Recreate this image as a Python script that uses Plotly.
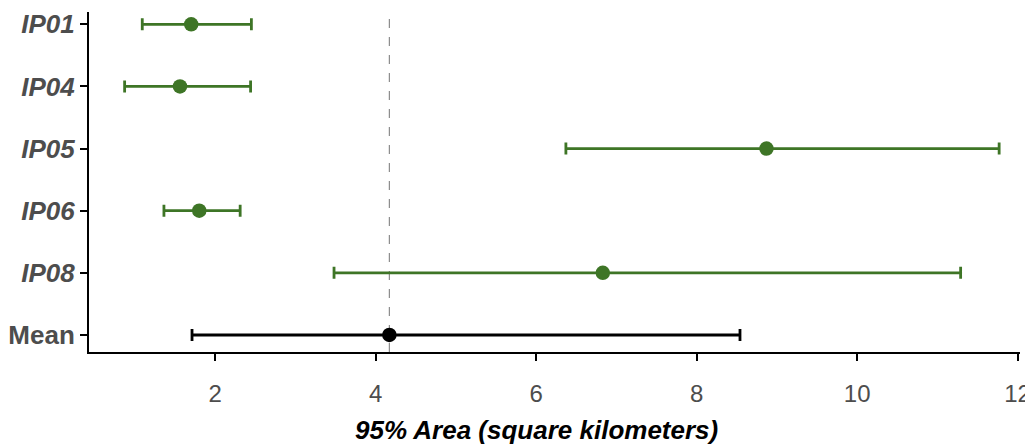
import plotly.graph_objects as go

categories = ["IP01", "IP04", "IP05", "IP06", "IP08", "Mean"]
estimate = [1.70, 1.56, 8.87, 1.80, 6.83, 4.17]
lower = [1.09, 0.87, 6.37, 1.36, 3.48, 1.71]
upper = [2.45, 2.44, 11.77, 2.31, 11.29, 8.54]
mean_line = 4.17
x_ticks = [2, 4, 6, 8, 10, 12]
x_title = "95% Area (square kilometers)"

GREEN = "#3E7526"
n = len(categories)
ypos = [n - i for i in range(n)]  # IP01 at top, Mean at bottom

W, H = 1033, 446
ML, MR, MT, MB = 81, 21, 4, 102
PW, PH = W - ML - MR, H - MT - MB

fig = go.Figure()
for i, cat in enumerate(categories):
    col = "black" if cat == "Mean" else GREEN
    fig.add_trace(go.Scatter(
        x=[estimate[i]], y=[ypos[i]], mode="markers",
        marker=dict(color=col, size=14.5),
        error_x=dict(type="data", symmetric=False,
                     array=[upper[i] - estimate[i]],
                     arrayminus=[estimate[i] - lower[i]],
                     color=col, thickness=2.8, width=6),
        showlegend=False, hoverinfo="skip",
    ))

fig.add_shape(type="line", x0=mean_line, x1=mean_line, y0=0, y1=1,
              xref="x", yref="paper",
              line=dict(color="#8C8C8C", width=1.2, dash="dash"), layer="below")

ticktext = [("<b>%s</b>" % c) if c == "Mean" else ("<b><i>%s</i></b>" % c) for c in categories]

fig.add_annotation(text="<b><i>%s</i></b>" % x_title,
                   xref="paper", yref="paper",
                   x=(528.5 - ML) / PW, y=-78 / PH,
                   xanchor="center", yanchor="middle", showarrow=False,
                   font=dict(size=26, color="black"))

fig.update_layout(
    width=W, height=H,
    margin=dict(l=ML, r=MR, t=MT, b=MB),
    paper_bgcolor="white", plot_bgcolor="white",
    font=dict(family="Liberation Sans, Arial, sans-serif"),
    xaxis=dict(range=[0.426, 12.03], tickvals=x_ticks,
               ticktext=[str(v) for v in x_ticks],
               showgrid=False, zeroline=False, automargin=False,
               showline=True, linecolor="black", linewidth=2,
               ticks="outside", ticklen=7, tickwidth=2, tickcolor="black",
               ticklabelstandoff=12,
               tickfont=dict(size=24, color="#4D4D4D")),
    yaxis=dict(range=[0.726, 6.198], tickvals=ypos, ticktext=ticktext,
               showgrid=False, zeroline=False, automargin=False,
               showline=True, linecolor="black", linewidth=2,
               ticks="outside", ticklen=7, tickwidth=2, tickcolor="black",
               tickfont=dict(size=26, color="#4D4D4D")),
)

fig.write_html("out.html")
